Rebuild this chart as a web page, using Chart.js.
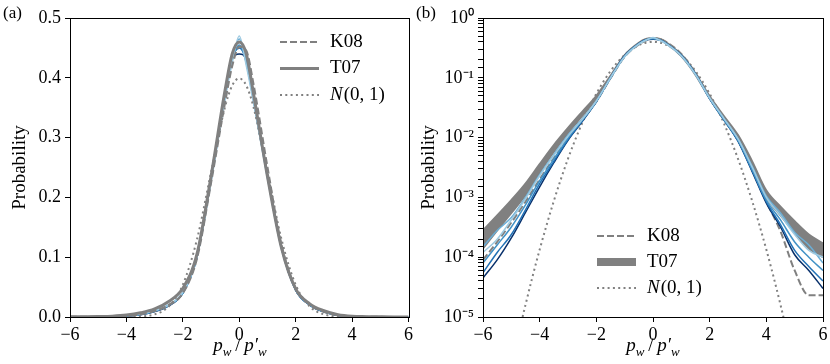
<!DOCTYPE html>
<html>
<head>
<meta charset="utf-8">
<script src="https://cdn.jsdelivr.net/npm/chart.js@4"></script>
<style>
body { margin: 0; background: #fff; }
#wrap { position: relative; width: 830px; height: 364px; font-family: "Liberation Serif", serif; }
canvas { position: absolute; top: 0; }
.lbl { position: absolute; font-size: 17px; }
.xt { position: absolute; top: 334px; font-size: 19px; transform: translateX(-50%); white-space: nowrap; }
.xt sub { font-size: 13px; }
</style>
</head>
<body>
<div id="wrap">
  <canvas id="chartA" width="415" height="364" style="left:0"></canvas>
  <canvas id="chartB" width="415" height="364" style="left:415px"></canvas>
  <div class="lbl" style="left:3px;top:3px">(a)</div>
  <div class="lbl" style="left:416px;top:3px">(b)</div>
  <div class="xt" style="left:240px"><i>p<sub>w</sub></i>&thinsp;/&thinsp;<i>p′<sub>w</sub></i></div>
  <div class="xt" style="left:653px"><i>p<sub>w</sub></i>&thinsp;/&thinsp;<i>p′<sub>w</sub></i></div>
</div>
<script>
// p_w / p'_w grid
const xs = [-6, -5.5, -5, -4.5, -4, -3.5, -3, -2.5, -2, -1.5, -1, -0.5, -0.25, 0,
            0.25, 0.5, 1, 1.5, 2, 2.5, 3, 3.5, 4, 4.5, 5, 5.5, 6];

// measured PDFs (blue shades, light -> dark)
const blue1 = [1.2e-4, 2.0e-4, 4.2e-4, 9.5e-4, 2.3e-3, 5.0e-3, 1.05e-2, 2.0e-2, 0.041, 0.100, 0.225, 0.365, 0.425, 0.470,
               0.420, 0.360, 0.232, 0.113, 0.046, 0.021, 9.5e-3, 3.2e-3, 1.0e-3, 5.0e-4, 2.4e-4, 1.3e-4, 1.0e-4];
const blue2 = [1.5e-4, 2.8e-4, 4.6e-4, 1.0e-3, 2.4e-3, 5.2e-3, 1.1e-2, 2.05e-2, 0.041, 0.100, 0.228, 0.368, 0.430, 0.465,
               0.425, 0.362, 0.233, 0.114, 0.046, 0.021, 9.6e-3, 3.3e-3, 1.05e-3, 5.5e-4, 2.6e-4, 1.6e-4, 8.0e-5];
const blue3 = [8.0e-5, 1.6e-4, 3.2e-4, 7.5e-4, 1.9e-3, 4.4e-3, 9.8e-3, 1.95e-2, 0.040, 0.100, 0.230, 0.370, 0.430, 0.455,
               0.425, 0.365, 0.235, 0.115, 0.045, 0.020, 9.0e-3, 2.9e-3, 9.0e-4, 4.2e-4, 1.8e-4, 1.0e-4, 6.0e-5];
const blue4 = [5.5e-5, 1.2e-4, 2.4e-4, 6.2e-4, 1.7e-3, 4.0e-3, 9.3e-3, 1.9e-2, 0.040, 0.100, 0.232, 0.372, 0.432, 0.450,
               0.428, 0.367, 0.236, 0.115, 0.045, 0.020, 8.8e-3, 2.8e-3, 8.5e-4, 3.5e-4, 1.3e-4, 7.0e-5, 4.0e-5];
const blue5 = [4.5e-5, 9.0e-5, 2.1e-4, 5.6e-4, 1.5e-3, 3.8e-3, 9.0e-3, 1.85e-2, 0.040, 0.100, 0.233, 0.373, 0.433, 0.440,
               0.430, 0.368, 0.237, 0.116, 0.045, 0.020, 8.7e-3, 2.7e-3, 8.0e-4, 3.2e-4, 1.1e-4, 6.0e-5, 3.0e-5];
const blues = [blue1, blue2, blue3, blue4, blue5];
const blueColors = ['#9ecae1', '#6baed6', '#4292c6', '#2171b5', '#08306b'];

// reference models
const k08 = [9.0e-5, 1.8e-4, 3.8e-4, 8.5e-4, 2.0e-3, 4.6e-3, 1.0e-2, 2.0e-2, 0.040, 0.098, 0.225, 0.360, 0.420, 0.452,
             0.445, 0.390, 0.250, 0.120, 0.048, 0.021, 9.0e-3, 2.9e-3, 8.5e-4, 2.7e-4, 6.0e-5, 2.3e-5, 2.3e-5];
const t07 = [2.2e-4, 4.2e-4, 7.5e-4, 1.4e-3, 3.2e-3, 7.0e-3, 1.35e-2, 2.6e-2, 0.048, 0.105, 0.235, 0.380, 0.440, 0.460,
             0.440, 0.375, 0.235, 0.115, 0.047, 0.022, 1.05e-2, 3.8e-3, 1.15e-3, 6.2e-4, 3.5e-4, 1.8e-4, 1.3e-4];
// T07 spread shown as a band on the log panel
const t07Hi = [2.8e-4, 5.0e-4, 9.0e-4, 1.7e-3, 3.6e-3, 7.5e-3, 1.45e-2, 2.7e-2, 0.050, 0.108, 0.240, 0.385, 0.445, 0.465,
               0.445, 0.380, 0.240, 0.118, 0.049, 0.023, 1.1e-2, 4.0e-3, 1.3e-3, 7.0e-4, 4.0e-4, 2.4e-4, 1.7e-4];
const t07Lo = [1.4e-4, 2.8e-4, 5.5e-4, 1.1e-3, 2.6e-3, 5.8e-3, 1.2e-2, 2.3e-2, 0.045, 0.102, 0.230, 0.375, 0.435, 0.455,
               0.435, 0.370, 0.230, 0.112, 0.045, 0.020, 9.5e-3, 3.2e-3, 1.0e-3, 5.0e-4, 2.6e-4, 1.4e-4, 1.0e-4];
const gauss = [6.1e-9, 1.08e-7, 1.49e-6, 1.6e-5, 1.34e-4, 8.7e-4, 4.43e-3, 1.75e-2, 0.054, 0.1295, 0.242, 0.352, 0.387, 0.399,
               0.387, 0.352, 0.242, 0.1295, 0.054, 0.0175, 4.43e-3, 8.7e-4, 1.34e-4, 1.6e-5, 1.49e-6, 1.08e-7, 6.1e-9];

const xTicks = [-6, -4, -2, 0, 2, 4, 6];
const linTicks = [0, 0.1, 0.2, 0.3, 0.4, 0.5];

const FONT = '"Liberation Serif", serif';
const GRAY = '#808080';

const pts = arr => xs.map((x, i) => ({ x: x, y: arr[i] }));

function line(arr, color, width, dash) {
  return {
    data: pts(arr), borderColor: color, borderWidth: width, borderDash: dash || [],
    pointRadius: 0, fill: false, cubicInterpolationMode: 'monotone'
  };
}

// box around plot area + legend
function framePlugin(legend) {
  return {
    id: 'frame',
    afterDraw(chart) {
      const ctx = chart.ctx, a = chart.chartArea;
      ctx.save();
      ctx.strokeStyle = '#000';
      ctx.lineWidth = 1;
      ctx.strokeRect(Math.round(a.left) + 0.5, Math.round(a.top) + 0.5,
                     Math.round(a.right - a.left), Math.round(a.bottom - a.top));
      legend.rows.forEach((r, i) => {
        const y = legend.y + i * legend.gap;
        ctx.beginPath();
        ctx.strokeStyle = GRAY;
        ctx.lineWidth = r.w;
        ctx.setLineDash(r.dash);
        ctx.moveTo(legend.x, y);
        ctx.lineTo(legend.x + 39, y);
        ctx.stroke();
        ctx.setLineDash([]);
        ctx.fillStyle = '#000';
        ctx.textBaseline = 'middle';
        let tx = legend.x + 50;
        if (r.label === 'N') {
          ctx.font = 'italic 19px ' + FONT;
          ctx.fillText('N', tx, y);
          tx += ctx.measureText('N').width + 1;
          ctx.font = '19px ' + FONT;
          ctx.fillText('(0, 1)', tx, y);
        } else {
          ctx.font = '19px ' + FONT;
          ctx.fillText(r.label, tx, y);
        }
      });
      ctx.restore();
    }
  };
}

function axes(yCfg, yWidth, titlePad) {
  const common = {
    grid: { drawOnChartArea: false, drawTicks: true, tickLength: 5, color: '#000' },
    border: { display: true, color: '#000', width: 1 },
  };
  return {
    x: Object.assign({}, common, {
      type: 'linear', min: -6, max: 6,
      afterBuildTicks: s => { s.ticks = xTicks.map(v => ({ value: v })); },
      afterFit: s => { s.height = 47; },
      ticks: { color: '#000', font: { family: FONT, size: 18 }, padding: 2,
               callback: v => v < 0 ? '\u2212' + (-v) : String(v) }
    }),
    y: Object.assign({}, common, yCfg, {
      afterFit: s => { s.width = yWidth; },
      title: { display: true, text: 'Probability', color: '#000', font: { family: FONT, size: 19 },
               padding: { top: titlePad, bottom: 0 } }
    })
  };
}

// (a) linear axis: models on top of measurements
new Chart(document.getElementById('chartA'), {
  type: 'line',
  data: {
    datasets: [
      line(gauss, GRAY, 2, [2, 3.3]),
      line(k08, GRAY, 2.2, [7, 3]),
      line(t07, GRAY, 3),
      ...blues.map((b, i) => line(b, blueColors[i], 1.5))
    ]
  },
  options: {
    responsive: false, animation: false,
    layout: { padding: { top: 18, right: 6, left: 0, bottom: 0 } },
    plugins: { legend: { display: false }, tooltip: { enabled: false } },
    scales: axes({
      type: 'linear', min: 0, max: 0.5,
      afterBuildTicks: s => { s.ticks = linTicks.map(v => ({ value: v })); },
      ticks: { color: '#000', font: { family: FONT, size: 18 }, padding: 4, callback: v => v.toFixed(1) }
    }, 70, 9)
  },
  plugins: [framePlugin({ x: 280, y: 42, gap: 26.5, rows: [
    { label: 'K08', w: 2.2, dash: [7, 3] },
    { label: 'T07', w: 3, dash: [] },
    { label: 'N', w: 2, dash: [2, 3.3] }
  ] })]
});

const sup = { '-': '\u207b', '0': '\u2070', '1': '\u00b9', '2': '\u00b2', '3': '\u00b3', '4': '\u2074', '5': '\u2075' };

const bandLo = Object.assign(line(t07Lo, GRAY, 2), { fill: false });
const bandHi = Object.assign(line(t07Hi, GRAY, 2), { fill: '-1', backgroundColor: GRAY });

// (b) log axis: T07 band under measurements
new Chart(document.getElementById('chartB'), {
  type: 'line',
  data: {
    datasets: [
      ...blues.map((b, i) => line(b, blueColors[i], 1.5)),
      line(gauss, GRAY, 2, [2, 3.3]),
      line(k08, GRAY, 2, [7, 3]),
      bandLo,
      bandHi
    ]
  },
  options: {
    responsive: false, animation: false,
    layout: { padding: { top: 18, right: 7, left: 0, bottom: 0 } },
    plugins: { legend: { display: false }, tooltip: { enabled: false }, filler: { drawTime: 'beforeDatasetsDraw' } },
    scales: axes({
      type: 'logarithmic', min: 1e-5, max: 1,
      ticks: { color: '#000', font: { family: FONT, size: 18 }, padding: 4, autoSkip: false,
        callback: v => {
          const e = Math.log10(v);
          if (Math.abs(e - Math.round(e)) > 1e-6) return '';
          return '10' + String(Math.round(e)).split('').map(c => sup[c]).join('');
        } }
    }, 68, 3)
  },
  plugins: [framePlugin({ x: 182, y: 236, gap: 26, rows: [
    { label: 'K08', w: 2, dash: [7, 3] },
    { label: 'T07', w: 8, dash: [] },
    { label: 'N', w: 2, dash: [2, 3.3] }
  ] })]
});
</script>
</body>
</html>
